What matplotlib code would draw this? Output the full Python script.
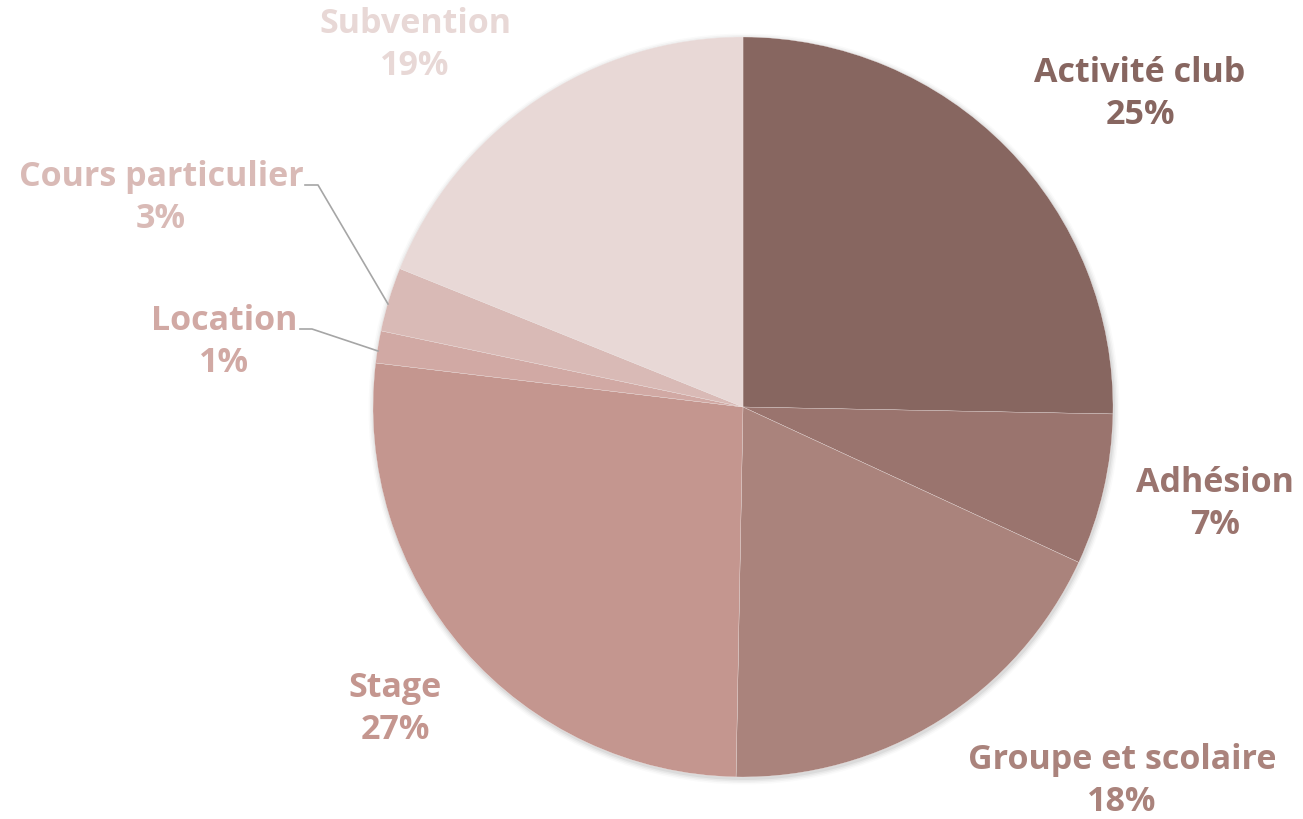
import matplotlib
matplotlib.use("Agg")
import matplotlib.pyplot as plt
from matplotlib.patches import Circle

categories = ["Activité club", "Adhésion", "Groupe et scolaire", "Stage",
              "Location", "Cours particulier", "Subvention"]
values = [25.3, 6.6, 18.4, 26.6, 1.4, 2.8, 18.9]
colors = ["#876660", "#9A746E", "#AA837C", "#C4968F", "#D1A9A4", "#D9BAB6", "#E8D8D6"]

# label centres (pixels, y from top)
label_pos = [(1140, 94), (1215, 504), (1122, 781), (395, 709),
             (224, 342), (161, 198), (415, 45)]

W, H = 1303, 820
fig = plt.figure(figsize=(W / 100, H / 100), dpi=100)
ax = fig.add_axes([0, 0, 1, 1])
ax.set_xlim(0, W)
ax.set_ylim(0, H)
ax.set_aspect("equal")
ax.axis("off")

cx, cy, r = 743, H - 408, 370

# soft shadow behind the pie
for i, a in enumerate([0.05, 0.04, 0.03, 0.02]):
    ax.add_patch(Circle((cx + 1, cy - 2), r + 1 + i * 1.5, color="black", alpha=a, lw=0, zorder=0))

wedges, _ = ax.pie(values, colors=colors, startangle=90, counterclock=False,
                   center=(cx, cy), radius=r, frame=True,
                   wedgeprops=dict(edgecolor="#F4ECEB", linewidth=0.2))
for w in wedges:
    w.set_zorder(2)
ax.set_xlim(0, W)
ax.set_ylim(0, H)
ax.axis("off")

for name, v, c, (x, y) in zip(categories, values, colors, label_pos):
    ax.text(x, H - y, f"{name}\n{v:.0f}%", color=c, fontsize=24.5, fontweight="bold",
            family=["Open Sans", "DejaVu Sans"], ha="center", va="center", linespacing=1.32)

# leader lines for the two small slices
ax.plot([305, 318, 388], [H - 186, H - 186, H - 305], color="#A6A6A6", lw=1.2, zorder=3)
ax.plot([300, 312, 378], [H - 330, H - 330, H - 352], color="#A6A6A6", lw=1.2, zorder=3)

fig.savefig("out.png", dpi=100)
